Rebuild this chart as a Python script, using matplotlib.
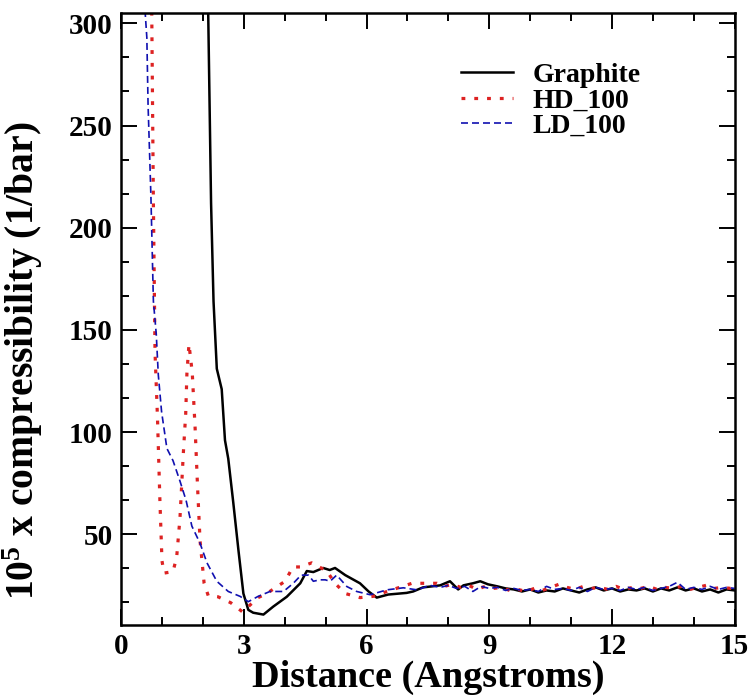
import matplotlib
matplotlib.use("Agg")
import matplotlib.pyplot as plt
from matplotlib.ticker import MultipleLocator

plt.rcParams["font.family"] = ["Liberation Serif", "DejaVu Serif"]
plt.rcParams["font.weight"] = "bold"
plt.rcParams["mathtext.fontset"] = "custom"
plt.rcParams["mathtext.rm"] = "Liberation Serif:bold"
plt.rcParams["mathtext.it"] = "Liberation Serif:bold"
plt.rcParams["mathtext.bf"] = "Liberation Serif:bold"

# Graphite (black, solid)
graphite_x = [2.10, 2.13, 2.20, 2.26, 2.34, 2.46, 2.54, 2.62, 2.74, 2.87, 2.99,
              3.11, 3.23, 3.48, 3.72, 4.05, 4.38, 4.54, 4.70, 4.94, 5.10, 5.23,
              5.48, 5.84, 6.05, 6.25, 6.53, 6.98, 7.14, 7.38, 7.60, 7.80, 8.04,
              8.24, 8.37, 8.60, 8.78, 8.97,
              9.2, 9.4, 9.6, 9.8, 10.0, 10.2, 10.4, 10.6, 10.8, 11.0, 11.2,
              11.4, 11.6, 11.8, 12.0, 12.2, 12.4, 12.6, 12.8, 13.0, 13.2, 13.4,
              13.6, 13.8, 14.0, 14.2, 14.4, 14.6, 14.8, 15.0]
graphite_y = [340, 305, 212, 164, 131, 121, 96, 87, 66, 42, 21,
              13, 11.6, 10.7, 14.6, 19.4, 26, 32, 31.5, 33.5, 32.5, 33.5,
              30, 26, 22, 19, 20.5, 21.3, 22, 24, 24.5, 25, 27,
              23, 25, 26, 27, 25.5,
              24.5, 23.5, 23, 22, 23, 21.5, 22.5, 22, 23.5, 22.5, 21.5,
              23, 24, 22.5, 23.5, 22, 23, 22.5, 23.5, 22, 23.5, 22.5,
              24, 22.5, 23.5, 22, 23, 21.5, 23, 22.5]

# HD_100 (red, dotted)
hd_x = [0.70, 0.75, 0.79, 0.83, 0.89, 0.95, 1.00, 1.05, 1.27, 1.36, 1.44,
        1.52, 1.58, 1.61, 1.66, 1.74, 1.81, 1.87, 1.93, 2.03, 2.13, 2.37,
        2.68, 2.97, 3.35, 3.56, 4.01, 4.20, 4.38, 4.66, 5.03, 5.23, 5.48,
        5.84, 6.16, 6.50, 7.11, 7.72,
        7.9, 8.1, 8.3, 8.5, 8.7, 8.9, 9.1, 9.3, 9.5, 9.7, 9.9, 10.1, 10.3,
        10.5, 10.7, 10.9, 11.1, 11.3, 11.5, 11.7, 11.9, 12.1, 12.3, 12.5,
        12.7, 12.9, 13.1, 13.3, 13.5, 13.7, 13.9, 14.1, 14.3, 14.5, 14.7,
        14.9, 15.0]
hd_y = [340, 305, 212, 139, 107, 66, 37, 31, 31.7, 39, 58,
        89, 109, 129, 143, 129, 102, 73, 47, 26, 20, 19.4,
        16.5, 12, 19, 21, 27, 34, 34, 36, 32, 26, 21,
        19, 19.6, 22, 26, 26,
        24.5, 25.5, 24, 25, 23, 24.5, 23.5, 24, 22.5, 23, 22, 23.5, 22.5,
        24, 25.5, 24, 23, 24.5, 23.5, 24, 23, 24.5, 23, 24,
        23.5, 24.5, 23, 24, 23.5, 24.5, 23, 24, 25, 23.5, 24,
        23.5, 24]

# LD_100 (blue, dashed)
ld_x = [0.55, 0.59, 0.63, 0.66, 0.71, 0.73, 0.79, 0.86, 0.91, 0.99, 1.12,
        1.27, 1.44, 1.59, 1.73, 1.93, 2.10, 2.34, 2.62, 2.91, 3.11, 3.35,
        3.64, 3.97, 4.21, 4.40, 4.58, 4.70, 4.86, 4.99, 5.11, 5.27, 5.52,
        5.76, 6.09, 6.50, 6.90, 7.23, 7.55,
        7.8, 8.0, 8.2, 8.4, 8.6, 8.8, 9.0, 9.2, 9.4, 9.6, 9.8, 10.0, 10.2,
        10.4, 10.6, 10.8, 11.0, 11.2, 11.4, 11.6, 11.8, 12.0, 12.2, 12.4,
        12.6, 12.8, 13.0, 13.2, 13.4, 13.6, 13.8, 14.0, 14.2, 14.4, 14.6,
        14.8, 15.0]
ld_y = [340, 305, 293, 260, 228, 215, 164, 148, 128, 110, 92,
        86, 76, 66.5, 54, 45.6, 36, 27, 22, 19.6, 17, 19.6,
        22, 22, 26, 30, 30, 27, 27.7, 27.7, 27, 30, 24.4,
        22, 20.4, 22.8, 23.8, 22.8, 25,
        24, 25, 23.5, 24.5, 22, 24.5, 23.5, 24, 22.5, 23.5, 22.5, 23, 22,
        24.5, 23, 23.5, 22.5, 24, 22, 24, 23, 23.5, 22.5, 24,
        23, 24, 22.5, 23.5, 24.5, 26.5, 23, 24, 23, 24.5, 23,
        24, 23.5]

fig = plt.figure(figsize=(7.52, 6.98), dpi=100)
ax = fig.add_axes([0.161, 0.1046, 0.816, 0.8766])

ax.plot(graphite_x, graphite_y, color="black", lw=1.8, label="Graphite")
ax.plot(hd_x, hd_y, color="#dd2222", lw=2.3, linestyle=(0, (1.2, 2.8)),
        label="HD_100")
ax.plot(ld_x, ld_y, color="#1010b0", lw=1.2, linestyle=(0, (4.2, 2.4)),
        label="LD_100")

ax.set_xlim(0, 15)
ax.set_ylim(5.6, 305)
ax.xaxis.set_major_locator(MultipleLocator(3))
ax.xaxis.set_minor_locator(MultipleLocator(1))
ax.set_yticks([50, 100, 150, 200, 250, 300])
ax.yaxis.set_minor_locator(MultipleLocator(50 / 3))

ax.tick_params(which="both", direction="in", top=True, right=True,
               labelsize=21, width=1.4, pad=6)
ax.tick_params(which="major", length=11.5)
ax.tick_params(which="minor", length=5.8)
for s in ax.spines.values():
    s.set_linewidth(1.8)

ax.set_xlabel("Distance (Angstroms)", fontsize=27.5, fontweight="bold",
              labelpad=0)
ax.set_ylabel("10$^5$ x compressibility (1/bar)", fontsize=28.5,
              fontweight="bold")
ax.yaxis.set_label_coords(-0.124, 0.432)

ax.legend(loc="upper left", bbox_to_anchor=(0.514, 0.96), frameon=False,
          fontsize=20, handlelength=1.87, handletextpad=0.7, labelspacing=0.0)

fig.savefig("out.png", dpi=100)
